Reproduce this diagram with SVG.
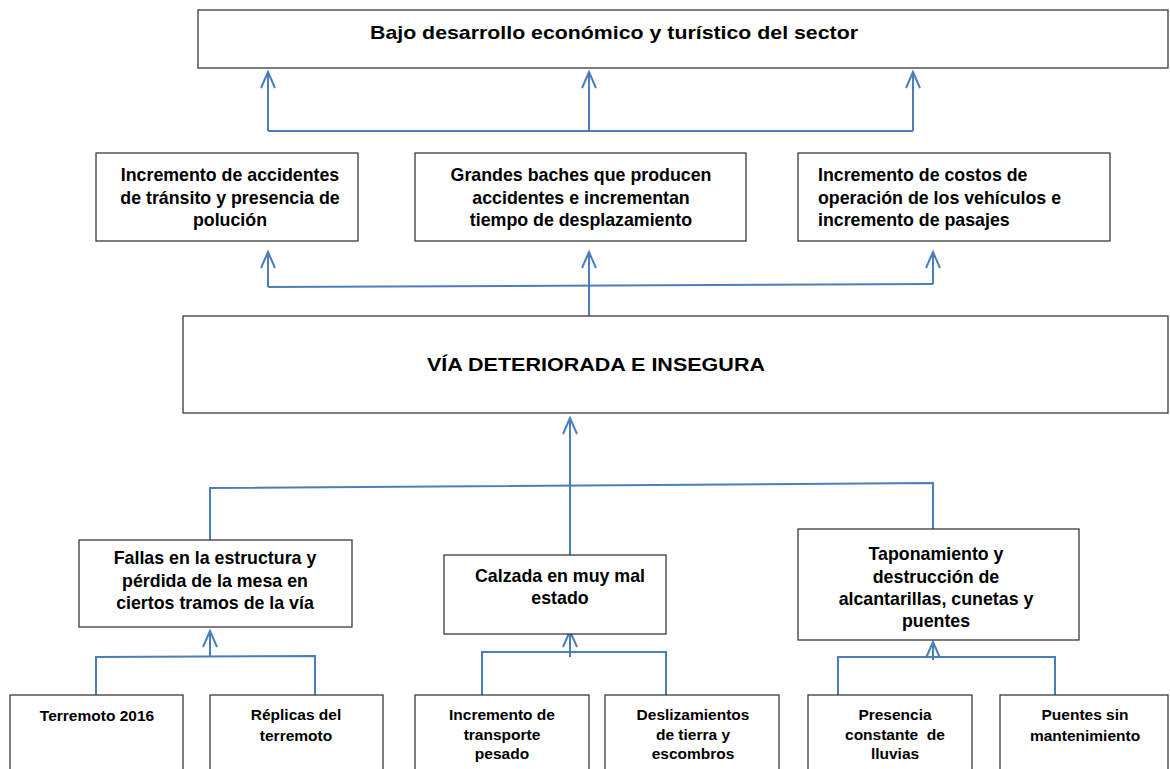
<svg xmlns="http://www.w3.org/2000/svg" width="1170" height="769" viewBox="0 0 1170 769">
<style>
.box{fill:#fff;stroke:#3a3a3a;stroke-width:1.3}
.t{font-family:"Liberation Sans",Arial,sans-serif;font-weight:bold;fill:#000;text-anchor:middle}
.m{font-size:17.8px}
.s{font-size:15.5px}
.big{font-size:19px}
.c{fill:none;stroke:#4a7ebb;stroke-width:2}
</style>
<defs>
<marker id="ah" markerUnits="userSpaceOnUse" markerWidth="20" markerHeight="20" orient="auto" refX="0" refY="0" overflow="visible">
<path d="M-16,-7 L0,0 L-16,7" fill="none" stroke="#4a7ebb" stroke-width="2"/>
</marker>
</defs>

<g id="connectors">
<path class="c" d="M268,131 L913,131"/>
<path class="c" d="M268,131 L268,72" marker-end="url(#ah)"/>
<path class="c" d="M589,131 L589,72" marker-end="url(#ah)"/>
<path class="c" d="M913,131 L913,72" marker-end="url(#ah)"/>

<path class="c" d="M268,287 L933,284"/>
<path class="c" d="M268,287 L268,252" marker-end="url(#ah)"/>
<path class="c" d="M589,316 L589,252" marker-end="url(#ah)"/>
<path class="c" d="M933,284 L933,252" marker-end="url(#ah)"/>

<path class="c" d="M570,555 L570,418" marker-end="url(#ah)"/>
<path class="c" d="M210,553 L210,488 L933,483 L933,545"/>

<path class="c" d="M96,695 L96,657 L315,656 L315,695"/>
<path class="c" d="M210,657 L210,631" marker-end="url(#ah)"/>

<path class="c" d="M482,695 L482,652 L666,652 L666,695"/>
<path class="c" d="M570,657 L570,631" marker-end="url(#ah)"/>

<path class="c" d="M838,695 L838,657 L1055,657 L1055,695"/>
<path class="c" d="M933,660 L933,642" marker-end="url(#ah)"/>
</g>

<g id="top">
<rect class="box" x="198" y="10" width="970" height="58"/>
<text class="t big" x="614" y="39" textLength="488" lengthAdjust="spacingAndGlyphs">Bajo desarrollo económico y turístico del sector</text>
</g>

<g id="effect1">
<rect class="box" x="96" y="153" width="262" height="88"/>
<text class="t m" x="230" y="181">Incremento de accidentes</text>
<text class="t m" x="230" y="204">de tránsito y presencia de</text>
<text class="t m" x="230" y="226">polución</text>
</g>
<g id="effect2">
<rect class="box" x="415" y="153" width="331" height="88"/>
<text class="t m" x="581" y="181">Grandes baches que producen</text>
<text class="t m" x="581" y="204">accidentes e incrementan</text>
<text class="t m" x="581" y="226">tiempo de desplazamiento</text>
</g>
<g id="effect3">
<rect class="box" x="798" y="153" width="312" height="88"/>
<text class="t m" x="818" y="181" style="text-anchor:start">Incremento de costos de</text>
<text class="t m" x="818" y="204" style="text-anchor:start">operación de los vehículos e</text>
<text class="t m" x="818" y="226" style="text-anchor:start">incremento de pasajes</text>
</g>

<g id="main">
<rect class="box" x="183" y="316" width="985" height="97"/>
<text class="t big" x="596" y="371" textLength="338" lengthAdjust="spacingAndGlyphs">VÍA DETERIORADA E INSEGURA</text>
</g>

<g id="cause1">
<rect class="box" x="79" y="540" width="273" height="87"/>
<text class="t m" x="215" y="564">Fallas en la estructura y</text>
<text class="t m" x="215" y="587">pérdida de la mesa en</text>
<text class="t m" x="215" y="609">ciertos tramos de la vía</text>
</g>
<g id="cause2">
<rect class="box" x="444" y="555" width="222" height="79"/>
<text class="t m" x="560" y="582">Calzada en muy mal</text>
<text class="t m" x="560" y="604">estado</text>
</g>
<g id="cause3">
<rect class="box" x="798" y="529" width="281" height="111"/>
<text class="t m" x="936" y="560">Taponamiento y</text>
<text class="t m" x="936" y="583">destrucción de</text>
<text class="t m" x="936" y="605">alcantarillas, cunetas y</text>
<text class="t m" x="936" y="627">puentes</text>
</g>

<g id="sub1">
<rect class="box" x="10" y="695" width="173" height="80"/>
<text class="t s" x="97" y="721">Terremoto 2016</text>
</g>
<g id="sub2">
<rect class="box" x="210" y="695" width="173" height="80"/>
<text class="t s" x="296" y="720">Réplicas del</text>
<text class="t s" x="296" y="741">terremoto</text>
</g>
<g id="sub3">
<rect class="box" x="415" y="695" width="174" height="80"/>
<text class="t s" x="502" y="720">Incremento de</text>
<text class="t s" x="502" y="740">transporte</text>
<text class="t s" x="502" y="759">pesado</text>
</g>
<g id="sub4">
<rect class="box" x="605" y="695" width="174" height="80"/>
<text class="t s" x="693" y="720">Deslizamientos</text>
<text class="t s" x="693" y="740">de tierra y</text>
<text class="t s" x="693" y="759">escombros</text>
</g>
<g id="sub5">
<rect class="box" x="808" y="695" width="164" height="80"/>
<text class="t s" x="895" y="720">Presencia</text>
<text class="t s" x="895" y="740" xml:space="preserve">constante  de</text>
<text class="t s" x="895" y="759">lluvias</text>
</g>
<g id="sub6">
<rect class="box" x="1000" y="695" width="168" height="80"/>
<text class="t s" x="1085" y="720">Puentes sin</text>
<text class="t s" x="1085" y="741">mantenimiento</text>
</g>
</svg>
